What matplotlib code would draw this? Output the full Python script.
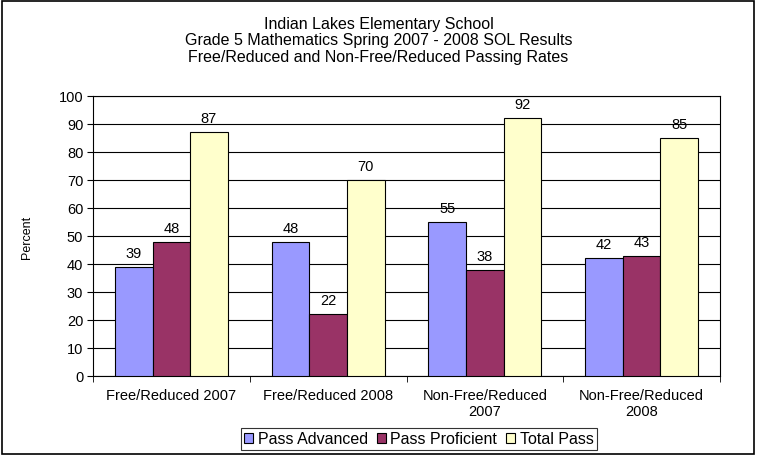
import numpy as np
import matplotlib.pyplot as plt
from matplotlib.patches import Rectangle

categories = ["Free/Reduced 2007", "Free/Reduced 2008", "Non-Free/Reduced\n2007", "Non-Free/Reduced\n2008"]
series_names = ["Pass Advanced", "Pass Proficient", "Total Pass"]
pass_advanced = [39, 48, 55, 42]
pass_proficient = [48, 22, 38, 43]
total_pass = [87, 70, 92, 85]
colors = ["#9999FF", "#993366", "#FFFFCC"]

plt.rcParams['font.family'] = ['Liberation Sans', 'DejaVu Sans']
fs = 10.5

fig = plt.figure(figsize=(7.57, 4.56), dpi=100)
ax = fig.add_axes([93 / 757, 1 - 377 / 456, (720 - 93) / 757, (377 - 97) / 456])

x = np.arange(len(categories))
w = 0.24
for i, (vals, name) in enumerate(zip([pass_advanced, pass_proficient, total_pass], series_names)):
    bars = ax.bar(x + (i - 1) * w, vals, w, color=colors[i], edgecolor='black', linewidth=0.8,
                  label=name, zorder=3)
    for b, v in zip(bars, vals):
        ax.text(b.get_x() + b.get_width() / 2, v + 2.5, str(v), ha='center', va='bottom', fontsize=fs)

ax.set_xlim(-0.5, len(categories) - 0.5)
ax.set_ylim(0, 100)
ax.set_yticks(range(0, 101, 10))
ax.set_xticks(x)
ax.set_xticklabels(categories, fontsize=fs, linespacing=1.1)
ax.set_xticks(np.arange(-0.5, len(categories), 1), minor=True)
ax.tick_params(axis='x', which='major', length=0, pad=9)
ax.tick_params(axis='x', which='minor', length=4, direction='out')
ax.tick_params(axis='y', length=4, direction='out', labelsize=fs, pad=3)
ax.yaxis.grid(True, color='black', linewidth=0.8, zorder=0)
for s in ax.spines.values():
    s.set_linewidth(0.8)
ax.set_ylabel("Percent", fontsize=9)
ax.yaxis.set_label_coords(-60 / 627, 0.5)

fig.suptitle("Indian Lakes Elementary School\nGrade 5 Mathematics Spring 2007 - 2008 SOL Results\n"
             "Free/Reduced and Non-Free/Reduced Passing Rates",
             y=1 - 17 / 456, fontsize=11.5, linespacing=1.12, va='top')

leg = fig.legend(loc='center', bbox_to_anchor=(419 / 757, 1 - 440 / 456), ncol=3, fontsize=11.5,
                 frameon=True, fancybox=False, edgecolor='black', handlelength=0.55, handleheight=0.55,
                 handletextpad=0.3, columnspacing=0.55, borderpad=0.2, borderaxespad=0)
leg.get_frame().set_linewidth(0.8)

fig.patches.append(Rectangle((0.002, 0.002), 0.994, 0.994, transform=fig.transFigure,
                             fill=False, edgecolor='black', linewidth=1.2))

fig.savefig("out.png", dpi=100)
